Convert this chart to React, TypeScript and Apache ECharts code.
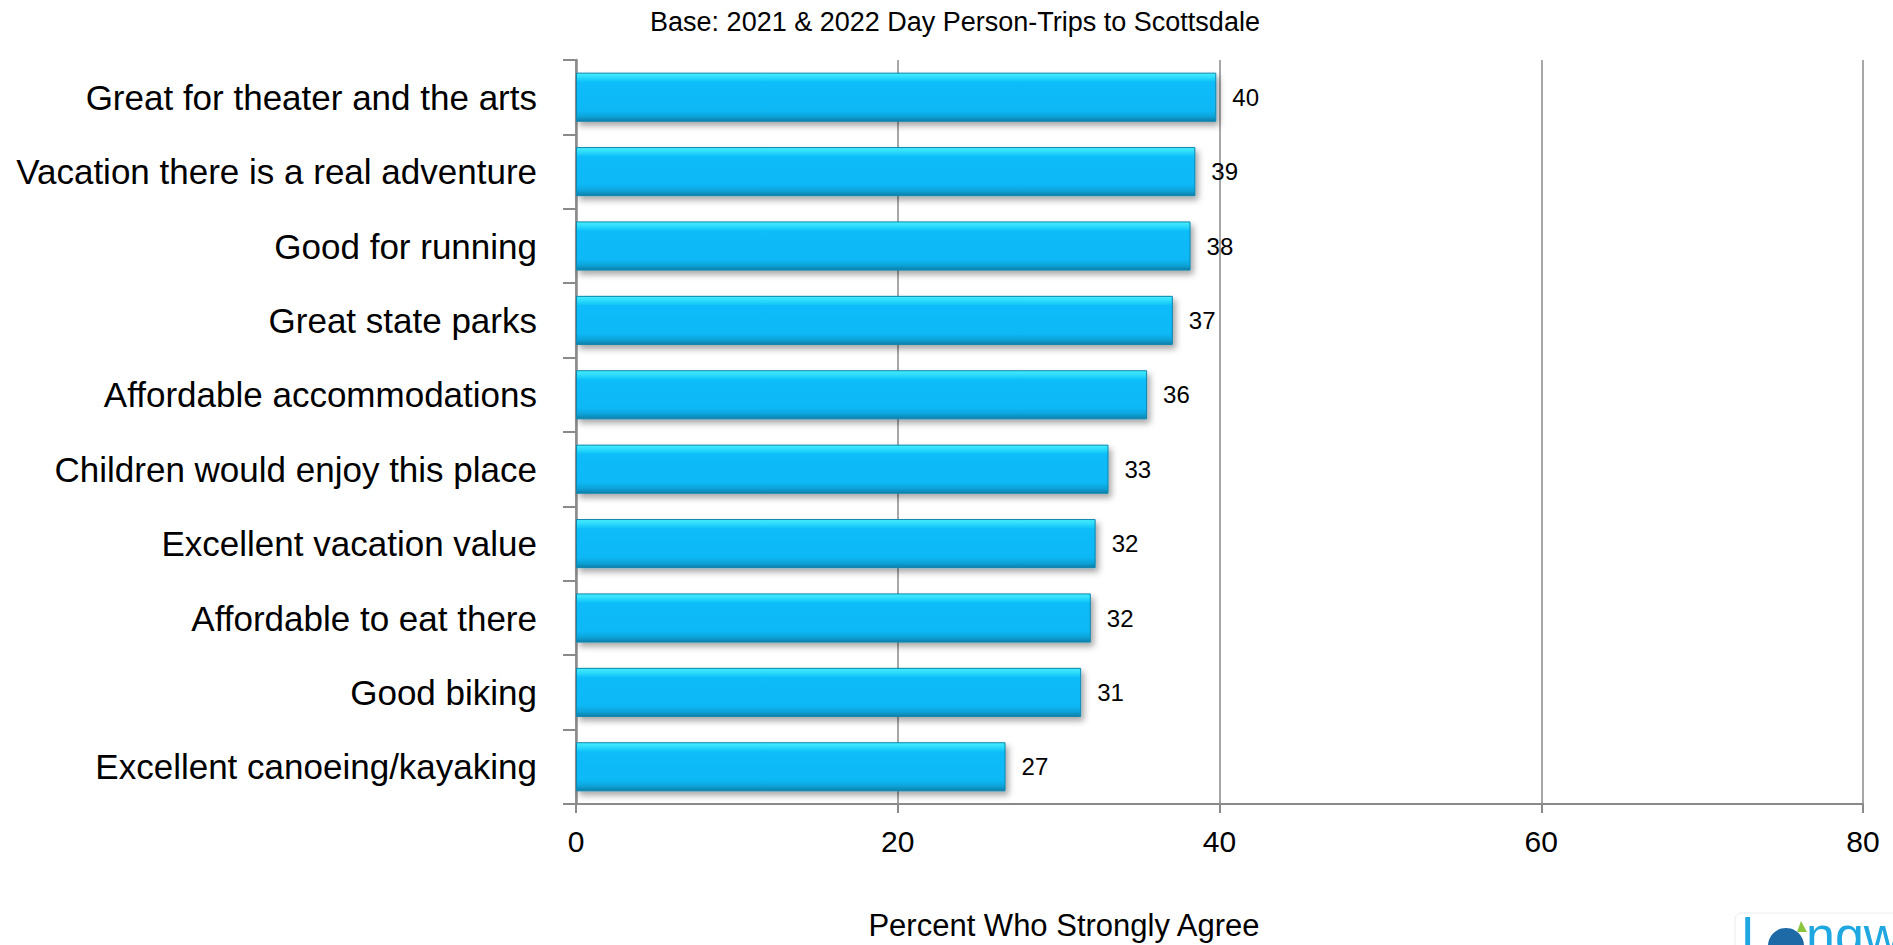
import React, { useEffect, useRef } from "react";
import * as echarts from "echarts";

const categories = [
  "Great for theater and the arts",
  "Vacation there is a real adventure",
  "Good for running",
  "Great state parks",
  "Affordable accommodations",
  "Children would enjoy this place",
  "Excellent vacation value",
  "Affordable to eat there",
  "Good biking",
  "Excellent canoeing/kayaking",
];
const values = [39.8, 38.5, 38.2, 37.1, 35.5, 33.1, 32.3, 32.0, 31.4, 26.7];
const xTicks = { min: 0, max: 80, interval: 20 };
const titleText = "Base: 2021 & 2022 Day Person-Trips to Scottsdale";
const axisTitle = "Percent Who Strongly Agree";

const FONT = "'Liberation Sans', Arial, Helvetica, sans-serif";

export default function App() {
  const ref = useRef<HTMLDivElement>(null);
  useEffect(() => {
    if (!ref.current) return;
    const chart = echarts.init(ref.current, undefined, { renderer: "svg" });
    const gray = "#8a8a8a";
    chart.setOption({
      animation: false,
      backgroundColor: "#ffffff",
      textStyle: { fontFamily: FONT },
      grid: { left: 576, right: 30, top: 60, bottom: 141, containLabel: false },
      xAxis: {
        type: "value",
        min: xTicks.min,
        max: xTicks.max,
        interval: xTicks.interval,
        axisLine: { show: true, lineStyle: { color: gray, width: 2 } },
        axisTick: { show: true, length: 9, lineStyle: { color: gray, width: 2 } },
        splitLine: { show: true, lineStyle: { color: gray, width: 1.5 } },
        axisLabel: { fontSize: 30, color: "#000", margin: 22, fontFamily: FONT },
      },
      yAxis: {
        type: "category",
        inverse: true,
        data: categories,
        axisLine: { show: true, lineStyle: { color: gray, width: 2.5 } },
        axisTick: { show: true, length: 13, lineStyle: { color: gray, width: 2 } },
        axisLabel: { fontSize: 35, color: "#000", margin: 39, fontFamily: FONT },
      },
      series: [
        {
          type: "bar",
          data: values,
          barCategoryGap: "34%",
          itemStyle: {
            color: new echarts.graphic.LinearGradient(0, 0, 0, 1, [
              { offset: 0, color: "#45eefe" },
              { offset: 0.1, color: "#2ad8fb" },
              { offset: 0.2, color: "#08bcf9" },
              { offset: 0.78, color: "#07b8f5" },
              { offset: 0.9, color: "#0aa3d9" },
              { offset: 1, color: "#0b7fa8" },
            ]),
            borderColor: "#0a86b0",
            borderWidth: 1,
            shadowColor: "rgba(0,0,0,0.35)",
            shadowBlur: 6,
            shadowOffsetX: 3,
            shadowOffsetY: 4,
          },
          label: {
            show: true,
            position: "right",
            distance: 16,
            fontSize: 24,
            color: "#000",
            fontFamily: FONT,
            formatter: (p: any) => String(Math.round(p.value)),
          },
        },
      ],
      graphic: [
        {
          type: "text",
          x: 955,
          y: 22,
          style: {
            text: titleText,
            fontSize: 27,
            fontFamily: FONT,
            fill: "#000",
            align: "center",
            verticalAlign: "middle",
          },
        },
        {
          type: "text",
          x: 1064,
          y: 925,
          style: {
            text: axisTitle,
            fontSize: 31,
            fontFamily: FONT,
            fill: "#000",
            align: "center",
            verticalAlign: "middle",
          },
        },
        {
          type: "rect",
          shape: { x: 1735, y: 913, width: 200, height: 60, r: 6 },
          style: { fill: "none", stroke: "#ececec", lineWidth: 1 },
        },
        {
          type: "text",
          x: 1741,
          y: 909,
          style: {
            text: "L",
            fontSize: 52,
            fontFamily: FONT,
            fill: "#1ea7e1",
            align: "left",
            verticalAlign: "top",
          },
        },
        {
          type: "circle",
          shape: { cx: 1786, cy: 946, r: 18 },
          style: { fill: "#1d6aa6" },
        },
        {
          type: "polygon",
          shape: { points: [[1801, 921], [1797, 932], [1807, 932]] },
          style: { fill: "#8cc63f" },
        },
        {
          type: "text",
          x: 1806,
          y: 909,
          style: {
            text: "ngw",
            fontSize: 52,
            fontFamily: FONT,
            fill: "#1ea7e1",
            align: "left",
            verticalAlign: "top",
          },
        },
      ],
    });
    return () => chart.dispose();
  }, []);
  return (
    <div
      ref={ref}
      style={{ position: "fixed", left: 0, top: 0, width: 1893, height: 945 }}
    />
  );
}
